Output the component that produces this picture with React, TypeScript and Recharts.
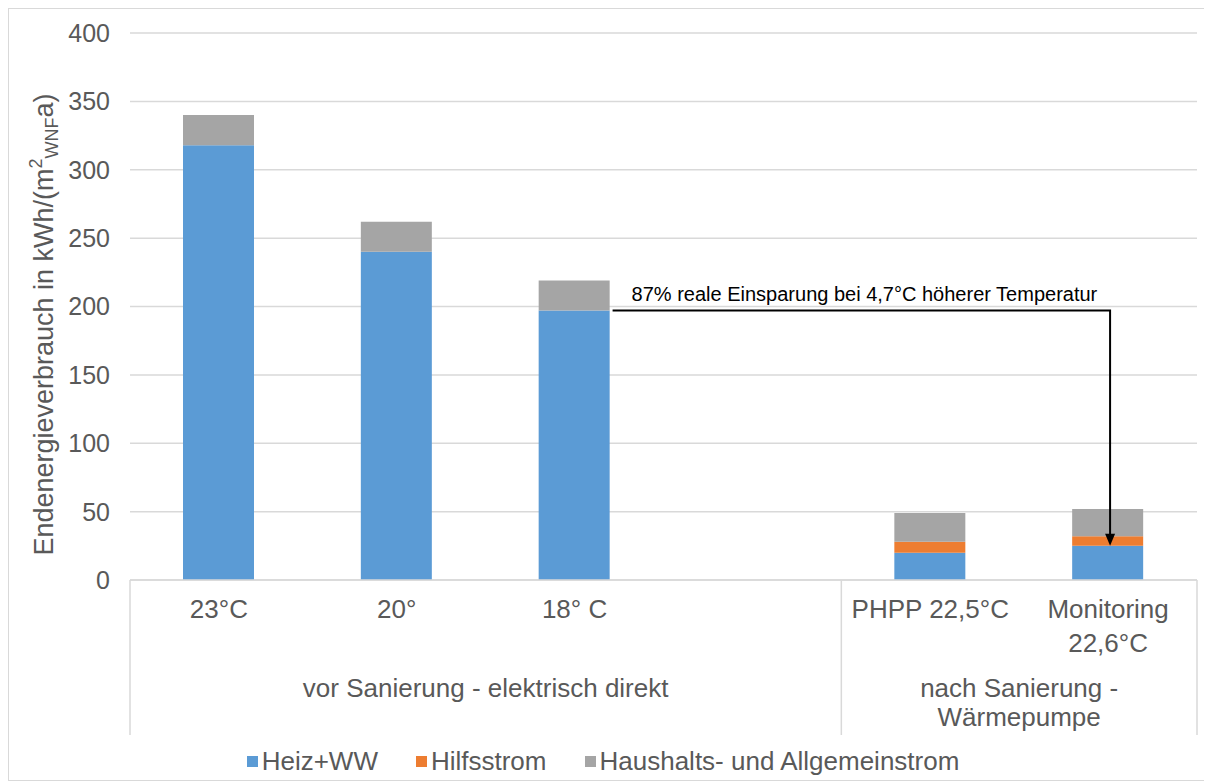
import { Bar, BarChart, CartesianGrid, Legend, ReferenceLine, XAxis, YAxis } from "recharts";

const categories = ["23°C", "20°", "18° C", "", "PHPP 22,5°C", "Monitoring\n22,6°C"];
const heizWW = [318, 240, 197, 0, 20, 25];
const hilfsstrom = [0, 0, 0, 0, 8, 7];
const haushalt = [22, 22, 22, 0, 21, 20];
const yTicks = [0, 50, 100, 150, 200, 250, 300, 350, 400];
const groups = [
  { lines: ["vor Sanierung - elektrisch direkt"], start: 0, end: 3 },
  { lines: ["nach Sanierung -", "Wärmepumpe"], start: 4, end: 5 },
];
const annotationText = "87% reale Einsparung bei 4,7°C höherer Temperatur";

const series = [
  { key: "heiz", name: "Heiz+WW", color: "#5b9bd5" },
  { key: "hilfs", name: "Hilfsstrom", color: "#ed7d31" },
  { key: "haushalt", name: "Haushalts- und Allgemeinstrom", color: "#a5a5a5" },
];

const data = categories.map((name, i) => ({
  name,
  heiz: heizWW[i] || null,
  hilfs: hilfsstrom[i] || null,
  haushalt: haushalt[i] || null,
}));

const FONT = "'Liberation Sans', Arial, sans-serif";
const TEXT = "#595959";
const GRID = "#d9d9d9";

function CategoryTick(props: any) {
  const { x, y, payload, index } = props;
  const half = payload?.offset || 89;
  const lines = String(payload.value).split("\n");
  const group = groups.find((g) => g.start === index);
  const isLast = index === categories.length - 1;
  return (
    <g>
      {lines.map((l, i) => (
        <text key={i} x={x} y={y + 38 + i * 34} textAnchor="middle" fill={TEXT} fontSize={26} fontFamily={FONT}>
          {l}
        </text>
      ))}
      {group && (
        <>
          <line x1={x - half} y1={y} x2={x - half} y2={y + 155} stroke={GRID} strokeWidth={1.5} />
          {group.lines.map((l, i) => (
            <text
              key={i}
              x={x - half + (group.end - group.start + 1) * half}
              y={y + 117 + i * 29}
              textAnchor="middle"
              fill={TEXT}
              fontSize={26}
              fontFamily={FONT}
            >
              {l}
            </text>
          ))}
        </>
      )}
      {isLast && <line x1={x + half} y1={y} x2={x + half} y2={y + 155} stroke={GRID} strokeWidth={1.5} />}
    </g>
  );
}

function YLabel(props: any) {
  const vb = props.viewBox || { x: 0, y: 0, width: 121, height: 547 };
  const cx = vb.x + 44;
  const cy = vb.y + vb.height / 2 + 18;
  return (
    <text
      transform={`translate(${cx},${cy}) rotate(-90)`}
      textAnchor="middle"
      fill={TEXT}
      fontSize={27}
      fontFamily={FONT}
    >
      <tspan>Endenergieverbrauch in kWh/(m</tspan>
      <tspan fontSize={18} dy={-11}>2</tspan>
      <tspan fontSize={18} dy={16}>WNF</tspan>
      <tspan dy={-5}>a)</tspan>
    </text>
  );
}

function Annotation(props: any) {
  const { x1, y1, x2, y2 } = props;
  const sx = x1 + 38;
  const ax = x2 + 2;
  return (
    <g>
      <path d={`M${sx},${y1} H${ax} V${y2 - 10}`} stroke="#000" strokeWidth={2} fill="none" />
      <polygon points={`${ax - 5},${y2 - 12} ${ax + 5},${y2 - 12} ${ax},${y2}`} fill="#000" />
      <text x={sx + 19} y={y1 - 10} fill="#000" fontSize={20} fontFamily={FONT}>
        {annotationText}
      </text>
    </g>
  );
}

function LegendContent() {
  return (
    <div style={{ height: 40, display: "flex", justifyContent: "center", alignItems: "center", paddingTop: 3, boxSizing: "border-box", fontFamily: FONT, fontSize: 26, color: TEXT }}>
      {series.map((s) => (
        <span key={s.key} style={{ display: "inline-flex", alignItems: "center", margin: "0 19px" }}>
          <span style={{ width: 11, height: 11, background: s.color, marginRight: 4, display: "inline-block" }} />
          {s.name}
        </span>
      ))}
    </div>
  );
}

export default function App() {
  return (
    <div style={{ width: 1202, height: 773, border: `1px solid ${GRID}`, boxSizing: "border-box", background: "#fff" }}>
      <BarChart
        width={1200}
        height={771}
        data={data}
        margin={{ top: 24, right: 12, bottom: 0, left: 0 }}
      >
        <CartesianGrid vertical={false} stroke={GRID} strokeWidth={1.5} />
        <XAxis
          dataKey="name"
          interval={0}
          height={160}
          tickLine={false}
          tickSize={0}
          tickMargin={0}
          axisLine={{ stroke: GRID, strokeWidth: 1.5 }}
          tick={<CategoryTick />}
        />
        <YAxis
          domain={[0, 400]}
          ticks={yTicks}
          width={121}
          axisLine={false}
          tickLine={false}
          tickSize={0}
          tickMargin={20}
          tick={{ fill: TEXT, fontSize: 25, fontFamily: FONT }}
          label={<YLabel />}
        />
        <Legend verticalAlign="bottom" content={<LegendContent />} />
        {series.map((s) => (
          <Bar key={s.key} dataKey={s.key} name={s.name} stackId="a" fill={s.color} barSize={71} isAnimationActive={false} />
        ))}
        <ReferenceLine
          segment={[
            { x: categories[2], y: heizWW[2] },
            { x: categories[5], y: heizWW[5] },
          ]}
          shape={<Annotation />}
        />
      </BarChart>
    </div>
  );
}
